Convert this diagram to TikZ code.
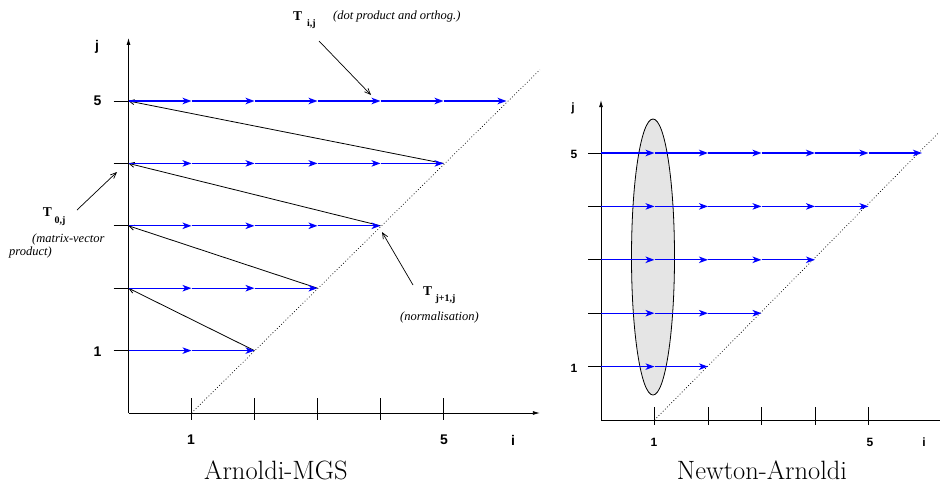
\documentclass[tikz,border=0pt]{standalone}
\usepackage{fontspec}
\newfontfamily\hv{Liberation Sans}
\newfontfamily\tm{Liberation Serif}
\usetikzlibrary{arrows.meta,shapes.geometric}
\begin{document}
\begin{tikzpicture}[x=1pt,y=-1pt,
  axis/.style={line width=0.8pt},
  axarr/.style={line width=0.8pt,-{Latex[length=7pt,width=4pt]}},
  bluearr/.style={draw=blue,line width=1.2pt,-{Stealth[length=9pt,width=6.5pt,inset=2.5pt]}},
  backarr/.style={line width=0.8pt,-{Straight Barb[length=5pt,width=5pt]}},
  annarr/.style={line width=0.7pt,-{Straight Barb[length=6pt,width=5pt]}},
  diag/.style={line width=0.7pt,dash pattern=on 0.8pt off 2.2pt},
  lab/.style={font=\hv\bfseries\fontsize{14}{14}\selectfont, inner sep=0pt},
  labs/.style={font=\hv\bfseries\fontsize{12}{12}\selectfont, inner sep=0pt},
  tlab/.style={font=\tm\bfseries\fontsize{13.5}{14}\selectfont, inner sep=0pt},
  tsub/.style={font=\tm\bfseries\fontsize{10}{10}\selectfont, inner sep=0pt},
  note/.style={font=\tm\itshape\fontsize{12.5}{13}\selectfont, inner sep=0pt, anchor=west},
  title/.style={font=\fontsize{26.5}{27}\selectfont, inner sep=0pt, anchor=base},
]
\useasboundingbox (0,0) rectangle (940,485);

% ---------------- left diagram: Arnoldi-MGS ----------------
\begin{scope}[shift={(128.5,413)},x=63pt,y=62.4pt]
  \coordinate (LO) at (0,0);
  \coordinate (LY) at (0,6.01);
  \coordinate (LX) at (6.53,0);
  \coordinate (LD0) at (1,0);
  \coordinate (LD1) at (6.53,5.5);
  \foreach \j in {1,...,5}{\foreach \i in {0,...,6}{\coordinate (L-\i-\j) at (\i,\j);}}
  \foreach \i in {1,...,5}{\coordinate (LT-\i) at (\i,0);}
\end{scope}
\draw[axarr] (LO) -- (LY);
\draw[axarr] (LO) -- (LX);
\foreach \j in {1,...,5}{\draw[axis] ([xshift=-15pt]L-0-\j) -- (L-0-\j);}
\foreach \i in {1,...,5}{\draw[axis] ([yshift=15pt]LT-\i) -- ([yshift=-7pt]LT-\i);}
\draw[diag] (LD0) -- (LD1);
\foreach \j in {1,...,4}{\pgfmathtruncatemacro\n{\j+1}\draw[backarr] (L-\n-\j) -- (L-0-\n);}
\foreach \j in {1,...,5}{\foreach \i in {0,...,\j}{\pgfmathtruncatemacro\n{\i+1}\draw[bluearr] (L-\i-\j) -- (L-\n-\j);}}

\node[lab] (lj) at (97,47) {j};
\node[lab] (l5) at (97.5,101) {5};
\node[lab] (l1) at (97.5,352) {1};
\node[lab] (lx1) at (191,440) {1};
\node[lab] (lx5) at (444,440) {5};
\node[lab] (lxi) at (513,440) {i};

% annotations
\node[tlab] (Tij) at (297.5,16) {T};
\node[tsub] (Tijs) at (311.5,24) {i,j};
\node[note] (Tijn) at (333,16) {(dot product and orthog.)};
\coordinate (aTij) at (319,41);
\coordinate (eTij) at (371,95);
\draw[annarr] (aTij) -- (eTij);

\node[tlab] (T0j) at (47.5,212) {T};
\node[tsub] (T0js) at (60,221) {0,j};
\node[note] (T0jn1) at (32,239) {(matrix-vector};
\node[note] (T0jn2) at (9,252) {product)};
\coordinate (aT0j) at (77,210);
\coordinate (eT0j) at (117,172);
\draw[annarr] (aT0j) -- (eT0j);

\node[tlab] (Tj1) at (427.5,291) {T};
\node[tsub] (Tj1s) at (445.5,299) {j+1,j};
\node[note] (Tj1n) at (400,317) {(normalisation)};
\coordinate (aTj1) at (413,285);
\coordinate (eTj1) at (382,232);
\draw[annarr] (aTj1) -- (eTj1);

\node[title] (t1) at (276,479) {Arnoldi-MGS};

% ---------------- right diagram: Newton-Arnoldi ----------------
\begin{scope}[shift={(601,420)},x=53.5pt,y=53.4pt]
  \coordinate (RO) at (0,0);
  \coordinate (RY) at (0,5.99);
  \coordinate (RX) at (6.36,0);
  \coordinate (RD0) at (1,0);
  \coordinate (RD1) at (6.3,5.37);
  \foreach \j in {1,...,5}{\foreach \i in {0,...,6}{\coordinate (R-\i-\j) at (\i,\j);}}
  \foreach \i in {1,...,5}{\coordinate (RT-\i) at (\i,0);}
\end{scope}
\node[ellipse, draw, fill=gray!20, line width=0.8pt, minimum width=43pt, minimum height=276pt, inner sep=0pt] (ell) at (653,257) {};
\draw[axarr] (RO) -- (RY);
\draw[axis] (RO) -- (RX);
\foreach \j in {1,...,5}{\draw[axis] ([xshift=-13pt]R-0-\j) -- (R-0-\j);}
\foreach \i in {1,...,5}{\draw[axis] ([yshift=13pt]RT-\i) -- ([yshift=-5pt]RT-\i);}
\draw[diag] (RD0) -- (RD1);
\foreach \j in {1,...,5}{\foreach \i in {0,...,\j}{\pgfmathtruncatemacro\n{\i+1}\draw[bluearr] (R-\i-\j) -- (R-\n-\j);}}

\node[labs] (rj) at (573,108) {j};
\node[labs] (r5) at (574,154) {5};
\node[labs] (r1) at (574,368) {1};
\node[labs] (rx1) at (654,442) {1};
\node[labs] (rx5) at (870,442) {5};
\node[labs] (rxi) at (924,442) {i};

\node[title] (t2) at (762,479) {Newton-Arnoldi};
\end{tikzpicture}
\end{document}
